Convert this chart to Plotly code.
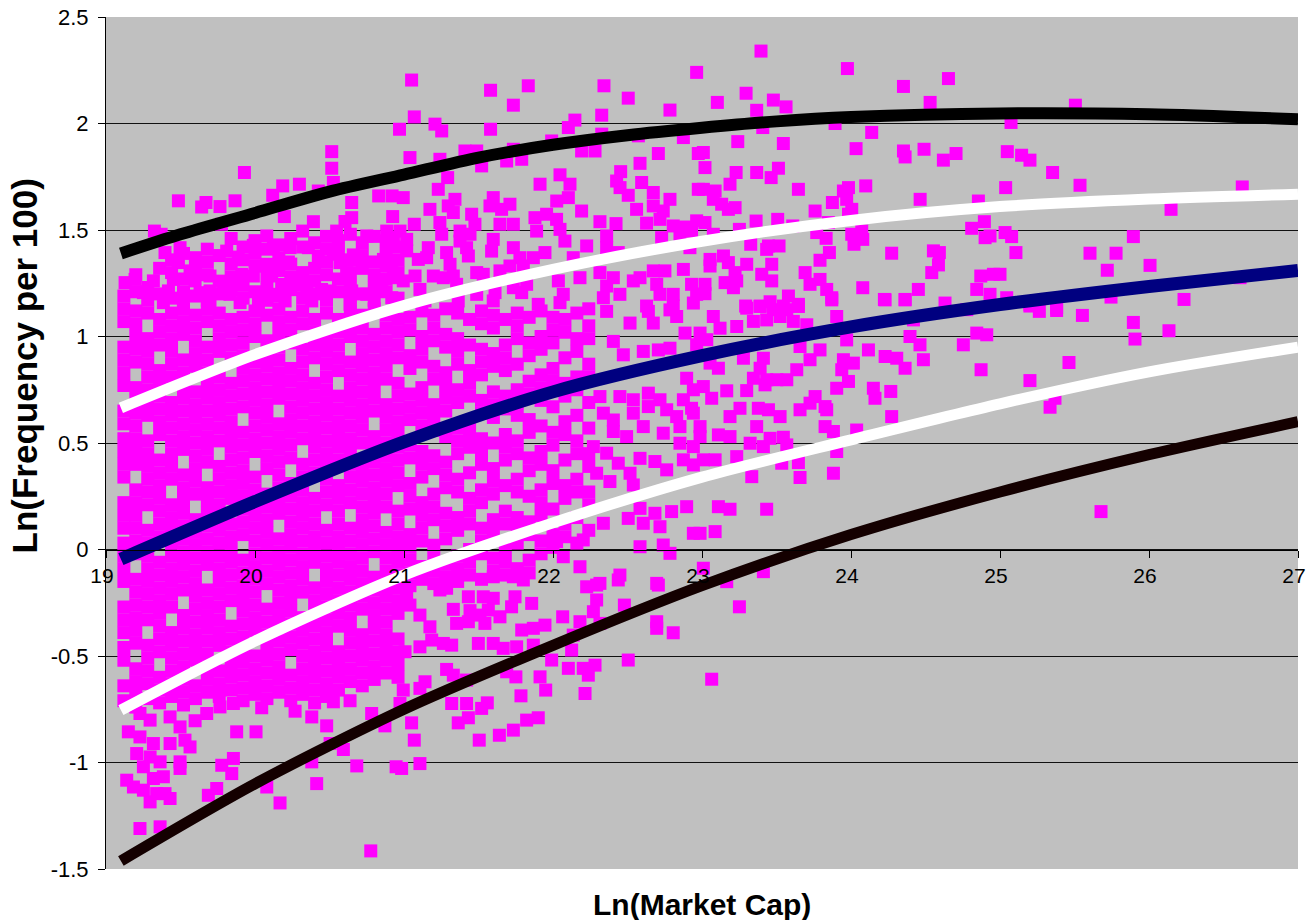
import plotly.graph_objects as go

# ---------------- curves (quantile-type fits) ----------------
curve_x = [19.1, 20.0, 21.0, 22.0, 23.0, 24.0, 25.0, 26.0, 27.0]
top_black_x = [19.1, 19.5, 20.0, 20.5, 21.0, 21.5, 22.0, 22.5, 23.0, 23.5, 24.0, 25.0, 26.0, 27.0]
top_black_y = [1.39, 1.48, 1.58, 1.68, 1.76, 1.84, 1.90, 1.945, 1.98, 2.01, 2.03, 2.047, 2.043, 2.02]
upper_white_y = [0.665, 0.915, 1.145, 1.315, 1.447, 1.545, 1.61, 1.645, 1.668]
median_blue_y = [-0.045, 0.225, 0.505, 0.74, 0.91, 1.045, 1.15, 1.235, 1.31]
lower_white_y = [-0.754, -0.43, -0.12, 0.125, 0.34, 0.515, 0.684, 0.834, 0.95]
bottom_black_y = [-1.462, -1.10, -0.75, -0.45, -0.17, 0.07, 0.27, 0.445, 0.60]

x_tick_vals = [19, 20, 21, 22, 23, 24, 25, 26, 27]
x_tick_text = ["19", "20", "21", "22", "23", "24", "25", "26", "27"]
y_tick_vals = [-1.5, -1.0, -0.5, 0.0, 0.5, 1.0, 1.5, 2.0, 2.5]
y_tick_text = ["-1.5", "-1", "-0.5", "0", "0.5", "1", "1.5", "2", "2.5"]

# ---------------- scatter: dense core (columns of y values) ----------------
core_x = [19.12, 19.20, 19.28, 19.36, 19.44, 19.52, 19.60, 19.68, 19.76, 19.84, 19.92, 20.00,
          20.08, 20.16, 20.24, 20.32, 20.40, 20.48, 20.56, 20.64, 20.72, 20.80, 20.88, 20.96]
core_y = [
    "-0.71 -0.64 -0.52 -0.46 -0.39 -0.33 -0.27 -0.15 -0.09 -0.03 0.03 0.10 0.16 0.22 0.34 0.40 0.46 0.52 0.59 0.65 0.77 0.83 0.89 0.95 1.07 1.13",
    "-0.74 -0.68 -0.62 -0.56 -0.44 -0.38 -0.32 -0.26 -0.20 -0.14 -0.02 0.04 0.10 0.16 0.22 0.28 0.40 0.46 0.52 0.58 0.64 0.70 0.76 0.88 0.94 1.00 1.06 1.12",
    "-0.70 -0.63 -0.57 -0.51 -0.45 -0.33 -0.27 -0.21 -0.15 -0.09 -0.03 0.03 0.09 0.21 0.27 0.33 0.39 0.45 0.51 0.63 0.69 0.75 0.81 0.87 0.93 0.99 1.11",
    "-0.72 -0.66 -0.60 -0.48 -0.42 -0.36 -0.30 -0.24 -0.18 -0.12 -0.06 0.06 0.12 0.18 0.24 0.30 0.36 0.42 0.54 0.60 0.66 0.72 0.78 0.84 0.96 1.02 1.08",
    "-0.69 -0.63 -0.57 -0.51 -0.45 -0.39 -0.27 -0.21 -0.15 -0.09 -0.03 0.03 0.09 0.15 0.21 0.33 0.39 0.45 0.51 0.57 0.63 0.69 0.81 0.87 0.93 0.99 1.05 1.11",
    "-0.73 -0.67 -0.61 -0.55 -0.49 -0.43 -0.37 -0.31 -0.19 -0.13 -0.07 -0.01 0.05 0.11 0.17 0.23 0.29 0.35 0.47 0.53 0.59 0.65 0.71 0.77 0.83 0.89 1.01 1.07 1.13",
    "-0.70 -0.64 -0.52 -0.46 -0.40 -0.34 -0.28 -0.22 -0.16 -0.10 -0.04 0.02 0.08 0.14 0.26 0.32 0.38 0.44 0.50 0.56 0.62 0.68 0.74 0.86 0.92 0.98 1.04 1.10",
    "-0.67 -0.61 -0.55 -0.49 -0.43 -0.37 -0.31 -0.25 -0.19 -0.07 -0.01 0.05 0.11 0.17 0.23 0.29 0.41 0.47 0.53 0.59 0.65 0.71 0.77 0.83 0.89 0.95 1.07 1.13",
    "-0.69 -0.63 -0.57 -0.45 -0.39 -0.33 -0.27 -0.21 -0.15 -0.09 -0.03 0.03 0.09 0.15 0.21 0.27 0.33 0.39 0.51 0.57 0.63 0.69 0.75 0.81 0.93 0.99 1.05 1.11",
    "-0.66 -0.60 -0.54 -0.48 -0.42 -0.36 -0.24 -0.18 -0.12 -0.06 0.00 0.06 0.12 0.24 0.30 0.36 0.42 0.48 0.54 0.60 0.66 0.72 0.78 0.90 0.96 1.02 1.08",
    "-0.71 -0.65 -0.59 -0.53 -0.47 -0.41 -0.35 -0.29 -0.23 -0.17 -0.11 -0.05 0.07 0.13 0.19 0.25 0.31 0.37 0.43 0.49 0.55 0.67 0.73 0.79 0.85 0.91 0.97 1.03 1.09",
    "-0.68 -0.62 -0.56 -0.50 -0.38 -0.32 -0.26 -0.20 -0.14 -0.08 -0.02 0.04 0.10 0.16 0.22 0.28 0.34 0.46 0.52 0.58 0.64 0.70 0.76 0.82 0.88 1.00 1.06 1.12",
    "-0.70 -0.64 -0.58 -0.52 -0.46 -0.40 -0.34 -0.28 -0.16 -0.10 -0.04 0.02 0.08 0.14 0.20 0.26 0.38 0.44 0.50 0.56 0.62 0.68 0.74 0.80 0.86 0.92 0.98 1.10",
    "-0.67 -0.61 -0.55 -0.49 -0.43 -0.37 -0.31 -0.25 -0.19 -0.13 -0.07 -0.01 0.05 0.17 0.23 0.29 0.35 0.41 0.47 0.53 0.59 0.71 0.77 0.83 0.89 0.95 1.01 1.07 1.13",
    "-0.71 -0.65 -0.59 -0.47 -0.41 -0.35 -0.29 -0.23 -0.17 -0.11 -0.05 0.01 0.07 0.13 0.19 0.25 0.31 0.43 0.49 0.55 0.61 0.67 0.73 0.79 0.85 0.97 1.03 1.09",
    "-0.68 -0.62 -0.56 -0.50 -0.44 -0.38 -0.32 -0.20 -0.14 -0.08 -0.02 0.04 0.10 0.16 0.22 0.28 0.34 0.40 0.52 0.58 0.64 0.70 0.76 0.82 0.88 0.94 1.06 1.12",
    "-0.72 -0.66 -0.60 -0.54 -0.48 -0.42 -0.36 -0.30 -0.24 -0.18 -0.06 0.00 0.06 0.12 0.18 0.24 0.36 0.42 0.48 0.54 0.60 0.66 0.72 0.78 0.90 0.96 1.02 1.08",
    "-0.69 -0.63 -0.57 -0.51 -0.45 -0.39 -0.33 -0.27 -0.21 -0.15 -0.09 -0.03 0.03 0.09 0.21 0.27 0.33 0.39 0.45 0.51 0.57 0.63 0.69 0.75 0.81 0.87 0.93 0.99 1.11",
    "-0.66 -0.60 -0.54 -0.48 -0.36 -0.30 -0.24 -0.18 -0.12 -0.06 0.00 0.06 0.12 0.18 0.24 0.30 0.42 0.48 0.54 0.60 0.66 0.72 0.84 0.90 0.96 1.02 1.08",
    "-0.62 -0.56 -0.50 -0.44 -0.38 -0.32 -0.26 -0.20 -0.14 -0.08 -0.02 0.04 0.10 0.22 0.28 0.34 0.40 0.46 0.52 0.58 0.64 0.70 0.76 0.82 0.88 1.00 1.06 1.12",
    "-0.64 -0.58 -0.52 -0.46 -0.40 -0.28 -0.22 -0.16 -0.10 -0.04 0.02 0.08 0.14 0.20 0.26 0.32 0.38 0.50 0.56 0.62 0.68 0.74 0.80 0.86 0.92 0.98 1.04 1.10",
    "-0.61 -0.55 -0.49 -0.43 -0.37 -0.31 -0.25 -0.19 -0.13 -0.01 0.05 0.11 0.17 0.23 0.29 0.35 0.41 0.47 0.53 0.65 0.71 0.77 0.83 0.89 0.95 1.01 1.13",
    "-0.58 -0.52 -0.46 -0.40 -0.34 -0.28 -0.22 -0.16 -0.10 -0.04 0.02 0.08 0.20 0.26 0.32 0.38 0.44 0.50 0.56 0.62 0.68 0.80 0.86 0.92 0.98 1.04 1.10",
    "-0.60 -0.54 -0.48 -0.42 -0.30 -0.24 -0.18 -0.12 -0.06 0.00 0.06 0.12 0.18 0.30 0.36 0.42 0.48 0.54 0.60 0.66 0.72 0.78 0.90 0.96 1.02 1.08",
]
# band just above the core (y 1.15 - 1.5)
band_y = [
    "1.19", "1.21 1.29", "1.17 1.23", "1.20 1.32", "1.18 1.30 1.36", "1.21 1.27 1.39",
    "1.19 1.31 1.37", "1.17 1.29 1.35 1.41", "1.20 1.26 1.38", "1.22 1.28 1.34 1.46",
    "1.18 1.24 1.36 1.42", "1.21 1.33 1.39 1.45", "1.17 1.23 1.29 1.41", "1.19 1.31 1.37 1.43",
    "1.22 1.28 1.34 1.46", "1.18 1.24 1.30 1.42", "1.20 1.26 1.32 1.44", "1.17 1.29 1.35 1.41 1.47",
    "1.21 1.27 1.39 1.45", "1.18 1.24 1.30 1.36 1.48", "1.20 1.32 1.38 1.44", "1.17 1.23 1.29 1.35 1.47",
    "1.21 1.27 1.33 1.39 1.45", "1.18 1.30 1.36 1.42",
]

# semi-dense band (x 21 - 22.3)
mid_x = [21.04, 21.12, 21.20, 21.28, 21.36, 21.44, 21.52, 21.60, 21.68, 21.76, 21.84, 21.92, 22.00, 22.08, 22.16, 22.24]
mid_y = [
    "-0.17 -0.11 -0.05 0.01 0.07 0.19 0.25 0.31 0.43 0.49 0.61 0.67 0.73 0.85 0.91 1.03 1.09",
    "-0.14 -0.08 0.04 0.10 0.16 0.22 0.34 0.40 0.46 0.58 0.64 0.70 0.76 0.88 0.94 1.00 1.12",
    "-0.16 -0.10 -0.04 0.02 0.14 0.20 0.26 0.38 0.44 0.56 0.62 0.68 0.80 0.86 0.98 1.04 1.10",
    "-0.13 -0.07 0.05 0.11 0.17 0.29 0.35 0.41 0.53 0.65 0.71 0.77 0.83 0.95 1.01 1.13",
    "-0.15 -0.09 -0.03 0.09 0.15 0.27 0.33 0.45 0.51 0.57 0.69 0.75 0.87 0.93 0.99 1.11",
    "-0.12 -0.06 0.00 0.12 0.18 0.24 0.36 0.48 0.54 0.60 0.72 0.78 0.84 0.96 1.08",
    "-0.14 -0.02 0.04 0.10 0.22 0.28 0.40 0.46 0.52 0.64 0.70 0.82 0.88 0.94 1.06 1.12",
    "-0.10 -0.04 0.08 0.14 0.26 0.32 0.38 0.50 0.62 0.68 0.74 0.86 0.92 1.04 1.10",
    "-0.12 -0.06 0.00 0.12 0.18 0.30 0.42 0.48 0.54 0.66 0.72 0.84 0.90 0.96 1.08",
    "-0.09 0.03 0.09 0.15 0.27 0.33 0.45 0.51 0.63 0.69 0.75 0.87 0.99 1.05 1.11",
    "-0.11 -0.05 0.07 0.13 0.25 0.37 0.43 0.55 0.61 0.73 0.79 0.91 0.97 1.09",
    "-0.02 0.04 0.16 0.22 0.28 0.40 0.46 0.58 0.70 0.76 0.82 0.94 1.00 1.12",
    "0.01 0.07 0.19 0.31 0.37 0.49 0.55 0.67 0.79 0.85 0.97 1.03 1.09",
    "0.06 0.12 0.24 0.30 0.42 0.54 0.60 0.72 0.78 0.90 1.02 1.08",
    "0.03 0.15 0.27 0.33 0.45 0.51 0.63 0.75 0.81 0.93 0.99 1.11",
    "0.09 0.21 0.27 0.39 0.45 0.57 0.69 0.81 0.87 0.99 1.05 1.13",
]

# individually read points
pts_upper_left = [
    (20.97, 1.973), (20.515, 1.868), (20.515, 1.79), (19.929, 1.77), (20.186, 1.707), (20.298, 1.715),
    (20.119, 1.663), (20.526, 1.723), (20.425, 1.683), (19.486, 1.637), (19.671, 1.629), (19.642, 1.608),
    (19.765, 1.61), (19.866, 1.637), (20.197, 1.563), (20.392, 1.539), (19.325, 1.495), (19.37, 1.48),
    (20.649, 1.629), (20.83, 1.66), (20.92, 1.66), (20.924, 1.563), (20.649, 1.558), (20.604, 1.54),
    (20.32, 1.495), (20.548, 1.495), (19.775, 1.527), (20.884, 1.495), (20.929, 1.464), (20.75, 1.472),
    (19.396, 1.394), (19.497, 1.417), (19.486, 1.347), (20.079, 1.472), (20.123, 1.417), (19.989, 1.428),
    (19.81, 1.401), (19.888, 1.373), (20.235, 1.417), (20.224, 1.35), (20.358, 1.417), (20.425, 1.378),
    (20.526, 1.386), (20.66, 1.383), (20.57, 1.347), (20.615, 1.3), (20.862, 1.362), (20.918, 1.347),
    (20.079, 1.339), (20.112, 1.284), (19.564, 1.308), (19.698, 1.284), (19.598, 1.261), (19.452, 1.268),
    (19.128, 1.253), (19.195, 1.268), (19.318, 1.261), (19.251, 1.206), (19.419, 1.214), (19.911, 1.292),
    (19.989, 1.284), (19.877, 1.261), (19.788, 1.237), (19.832, 1.198), (19.631, 1.206), (19.698, 1.214),
    (19.519, 1.159), (19.385, 1.159), (20.179, 1.245), (20.246, 1.253), (20.123, 1.198), (20.202, 1.167),
    (20.023, 1.151), (20.347, 1.237), (20.447, 1.221), (20.503, 1.214), (20.381, 1.167), (20.649, 1.214),
    (20.75, 1.198), (20.851, 1.237), (20.929, 1.276), (20.918, 1.182), (20.638, 1.151), (19.9, 1.159),
    (19.698, 1.143),
]
pts_upper_mid = [
    (21.051, 2.204), (21.581, 2.156), (21.834, 2.177), (21.734, 2.086), (22.342, 2.177), (22.505, 2.119),
    (22.785, 2.063), (22.964, 2.24), (21.069, 2.031), (21.208, 1.997), (21.253, 1.965), (21.581, 1.973),
    (22.147, 2.016), (22.103, 1.981), (22.327, 2.039), (22.327, 1.95), (21.991, 1.918), (21.734, 1.879),
    (21.79, 1.832), (21.409, 1.871), (21.488, 1.871), (21.04, 1.84), (21.241, 1.832), (21.689, 1.824),
    (21.521, 1.801), (22.192, 1.871), (22.282, 1.871), (22.573, 1.942), (22.875, 1.934), (22.707, 1.859),
    (22.975, 1.859), (22.584, 1.813), (22.454, 1.774), (22.427, 1.73), (22.45, 1.699), (22.505, 1.663),
    (22.595, 1.723), (22.673, 1.676), (22.785, 1.644), (22.975, 1.691), (21.293, 1.746), (21.23, 1.691),
    (21.913, 1.715), (22.047, 1.759), (22.114, 1.715), (22.103, 1.652), (22.025, 1.636), (20.995, 1.652),
    (21.342, 1.644), (21.297, 1.613), (21.174, 1.597), (21.331, 1.582), (21.599, 1.652), (21.577, 1.613),
    (21.655, 1.597), (21.711, 1.621), (21.454, 1.574), (22.192, 1.589), (22.315, 1.539), (22.423, 1.53),
    (22.561, 1.597), (22.673, 1.613), (22.74, 1.589), (22.628, 1.532), (22.718, 1.55), (22.807, 1.519),
    (22.886, 1.514), (22.964, 1.543), (21.069, 1.527), (20.973, 1.495), (21.018, 1.456), (21.018, 1.402),
    (21.241, 1.535), (21.253, 1.48), (21.376, 1.495), (21.443, 1.48), (21.476, 1.527), (21.644, 1.527),
    (21.734, 1.527), (21.879, 1.558), (21.957, 1.574), (22.024, 1.55), (21.89, 1.495), (22.047, 1.503),
    (22.08, 1.448), (22.36, 1.472), (22.36, 1.417), (22.226, 1.425), (22.438, 1.394), (22.729, 1.464),
    (22.852, 1.48), (22.93, 1.495), (22.919, 1.417), (21.163, 1.417), (21.152, 1.37), (21.096, 1.362),
    (21.286, 1.394), (21.309, 1.339), (21.376, 1.448), (21.42, 1.417), (21.432, 1.378), (21.599, 1.456),
    (21.588, 1.401), (21.734, 1.417), (21.778, 1.37), (21.868, 1.37), (21.946, 1.394), (22.136, 1.37),
    (21.488, 1.3), (21.532, 1.292), (21.644, 1.308), (21.711, 1.331), (21.801, 1.331), (21.074, 1.284),
    (21.197, 1.284), (21.264, 1.276), (21.331, 1.284), (20.995, 1.261), (21.107, 1.221), (21.141, 1.167),
    (21.353, 1.245), (21.364, 1.167), (21.488, 1.198), (21.599, 1.167), (21.611, 1.206), (21.734, 1.229),
    (21.823, 1.245), (21.79, 1.206), (22.036, 1.261), (22.069, 1.198), (22.047, 1.159), (22.181, 1.276),
    (21.901, 1.151), (22.315, 1.3), (22.405, 1.276), (22.36, 1.237), (22.338, 1.182), (22.449, 1.198),
    (22.539, 1.261), (22.584, 1.276), (22.673, 1.308), (22.751, 1.308), (22.875, 1.315), (22.696, 1.245),
    (22.718, 1.198), (22.807, 1.198), (22.93, 1.245), (22.964, 1.198), (22.628, 1.143), (22.807, 1.143),
]
pts_upper_right = [
    (23.396, 2.34), (23.976, 2.258), (24.654, 2.211), (24.352, 2.174), (23.296, 2.142), (23.103, 2.099),
    (23.479, 2.11), (23.564, 2.078), (23.367, 2.062), (24.531, 2.099), (23.408, 1.981), (23.893, 2.0),
    (24.139, 1.958), (23.24, 1.915), (23.546, 1.906), (23.009, 1.864), (23.02, 1.793), (24.034, 1.882),
    (24.352, 1.871), (24.363, 1.843), (24.49, 1.879), (24.62, 1.828), (24.705, 1.859), (23.229, 1.77),
    (23.188, 1.715), (23.367, 1.77), (23.513, 1.79), (23.464, 1.746), (23.088, 1.683), (23.076, 1.644),
    (23.132, 1.621), (23.222, 1.605), (23.177, 1.597), (23.009, 1.691), (23.647, 1.691), (23.983, 1.699),
    (23.949, 1.683), (23.971, 1.644), (24.099, 1.707), (23.875, 1.629), (23.759, 1.589), (24.005, 1.597),
    (23.983, 1.574), (24.464, 1.644), (24.855, 1.636), (23.02, 1.535), (23.076, 1.48), (23.251, 1.503),
    (23.363, 1.542), (23.508, 1.55), (23.609, 1.519), (23.848, 1.535), (23.77, 1.488), (23.833, 1.461),
    (24.005, 1.48), (24.072, 1.495), (24.079, 1.456), (24.02, 1.433), (23.327, 1.433), (23.446, 1.425),
    (23.517, 1.425), (23.434, 1.409), (23.855, 1.394), (23.792, 1.358), (24.273, 1.391), (24.553, 1.402),
    (24.593, 1.394), (24.587, 1.336), (24.542, 1.3), (24.81, 1.508), (24.895, 1.539), (24.9, 1.464),
    (24.933, 1.472), (23.054, 1.362), (23.144, 1.378), (23.177, 1.347), (23.054, 1.331), (23.3, 1.339),
    (23.222, 1.3), (23.468, 1.339), (23.401, 1.292), (23.468, 1.261), (23.233, 1.261), (23.211, 1.229),
    (23.155, 1.253), (23.02, 1.245), (23.02, 1.201), (23.692, 1.3), (23.725, 1.245), (23.792, 1.268),
    (23.837, 1.221), (23.871, 1.182), (23.58, 1.19), (23.647, 1.151), (23.293, 1.143), (23.39, 1.143),
    (23.457, 1.163), (23.546, 1.143), (24.079, 1.229), (24.224, 1.174), (24.363, 1.174), (24.452, 1.221),
    (24.871, 1.284), (24.956, 1.292), (24.844, 1.221), (24.933, 1.198),
    (25.506, 2.086), (25.074, 2.005), (25.049, 1.868), (25.145, 1.851), (25.201, 1.828), (25.353, 1.77),
    (25.038, 1.699), (25.537, 1.71), (26.626, 1.702), (26.148, 1.597), (25.034, 1.488), (25.078, 1.469),
    (25.895, 1.469), (25.107, 1.394), (25.604, 1.391), (25.779, 1.391), (25.72, 1.311), (26.007, 1.334),
    (25.0, 1.292), (26.611, 1.276), (25.045, 1.182), (25.745, 1.185), (26.235, 1.174), (25.201, 1.143),
    (25.38, 1.135), (25.201, 1.149), (25.264, 1.118), (25.38, 1.122), (25.553, 1.099), (25.895, 1.066),
    (25.906, 0.988), (26.134, 1.027), (25.463, 0.878), (25.201, 0.793), (25.336, 0.668), (25.369, 0.71),
    (25.678, 0.178),
]
pts_mid_right = [
    (23.3, 1.133), (23.39, 1.141), (23.479, 1.126), (23.569, 1.126), (23.647, 1.141), (23.076, 1.094),
    (23.121, 1.039), (23.233, 1.047), (23.345, 1.071), (23.434, 1.078), (23.524, 1.094), (23.613, 1.071),
    (23.703, 1.055), (23.904, 1.094), (23.871, 1.172), (24.229, 1.172), (24.363, 1.172), (24.419, 1.078),
    (24.631, 1.157), (24.777, 1.126), (24.844, 1.016), (24.911, 1.008), (23.054, 0.875), (23.11, 0.851),
    (22.987, 1.016), (23.032, 0.985), (23.278, 0.898), (23.412, 0.898), (23.39, 0.851), (23.345, 0.804),
    (23.434, 0.797), (23.502, 0.797), (23.569, 0.797), (23.658, 0.953), (23.725, 0.891), (23.636, 0.844),
    (23.792, 0.937), (23.971, 0.984), (23.949, 0.891), (23.938, 0.844), (24.016, 0.875), (24.117, 0.937),
    (24.229, 0.906), (24.307, 0.898), (24.363, 0.851), (24.486, 0.891), (24.396, 1.0), (24.463, 0.961),
    (24.754, 0.961), (24.873, 0.844), (23.904, 0.757), (23.983, 0.789), (24.15, 0.757), (24.161, 0.71),
    (24.267, 0.742), (23.009, 0.765), (23.065, 0.71), (23.166, 0.745), (23.3, 0.746), (23.423, 0.773),
    (23.759, 0.718), (23.725, 0.687), (23.658, 0.656), (23.826, 0.671), (23.837, 0.656), (23.255, 0.663),
    (23.188, 0.624), (23.378, 0.663), (23.446, 0.656), (23.524, 0.624), (24.273, 0.624), (22.987, 0.577),
    (22.987, 0.53), (23.11, 0.538), (23.188, 0.53), (23.367, 0.577), (23.457, 0.522), (23.546, 0.527),
    (23.323, 0.499), (23.412, 0.483), (23.826, 0.577), (23.882, 0.554), (24.038, 0.561), (23.569, 0.491),
    (23.009, 0.421), (23.088, 0.421), (23.233, 0.436), (23.535, 0.405), (23.647, 0.408), (23.904, 0.46),
    (23.334, 0.342), (23.658, 0.338), (23.882, 0.358), (23.11, 0.201), (23.188, 0.189), (23.434, 0.189),
    (23.088, 0.084), (22.987, 0.076), (23.009, -0.088), (23.412, -0.104), (23.166, -0.151),
    (23.251, -0.269), (23.065, -0.609),
    (22.36, 1.118), (22.517, 1.063), (22.64, 1.118), (22.673, 1.063), (22.785, 1.125), (22.83, 1.094),
    (22.886, 1.016), (22.964, 0.961), (22.942, 1.157), (22.405, 0.977), (22.472, 0.914), (22.606, 0.93),
    (22.707, 0.937), (22.785, 0.945), (22.897, 0.804), (22.942, 0.75), (22.875, 0.703), (22.93, 0.663),
    (22.315, 0.718), (22.449, 0.718), (22.539, 0.703), (22.64, 0.734), (22.718, 0.703), (22.338, 0.64),
    (22.405, 0.608), (22.539, 0.64), (22.64, 0.671), (22.763, 0.656), (22.83, 0.624), (22.942, 0.64),
    (22.405, 0.554), (22.494, 0.53), (22.606, 0.577), (22.74, 0.546), (22.852, 0.577), (22.942, 0.483),
    (22.852, 0.499), (22.584, 0.428), (22.684, 0.413), (22.763, 0.374), (22.875, 0.421), (22.942, 0.397),
    (22.271, 0.483), (22.36, 0.452), (22.438, 0.405), (22.517, 0.358), (22.293, 0.358), (22.382, 0.319),
    (22.539, 0.303), (22.584, 0.193), (22.684, 0.17), (22.796, 0.178), (22.897, 0.201), (22.338, 0.123),
    (22.505, 0.146), (22.606, 0.123), (22.718, 0.107), (22.942, 0.076), (22.584, 0.013), (22.74, 0.021),
    (22.785, -0.018), (22.024, 0.037), (22.203, 0.045), (22.069, -0.034), (22.181, -0.081), (22.315, -0.159),
    (22.449, -0.12), (22.696, -0.159), (21.599, -0.128), (21.734, -0.128), (21.801, -0.143),
]
pts_lower = [
    (21.286, -0.182), (21.241, -0.19), (21.432, -0.222), (21.532, -0.222), (21.599, -0.229), (21.745, -0.222),
    (21.857, -0.253), (21.331, -0.281), (21.443, -0.287), (21.566, -0.284), (21.644, -0.316), (21.722, -0.269),
    (22.226, -0.175), (22.293, -0.167), (22.438, -0.143), (22.707, -0.167), (22.293, -0.237), (22.271, -0.292),
    (22.315, -0.347), (22.479, -0.261), (22.696, -0.339), (22.696, -0.37), (22.807, -0.391), (22.065, -0.316),
    (22.181, -0.339), (22.136, -0.402), (21.353, -0.347), (21.432, -0.339), (21.543, -0.347), (21.51, -0.308),
    (21.018, -0.206), (21.04, -0.261), (21.107, -0.308), (21.174, -0.363), (21.186, -0.425), (21.264, -0.441),
    (21.32, -0.449), (21.107, -0.457), (21.007, -0.48), (21.499, -0.441), (21.599, -0.441), (21.666, -0.464),
    (21.756, -0.457), (21.79, -0.378), (21.868, -0.37), (21.946, -0.355), (21.868, -0.449), (22.125, -0.472),
    (21.991, -0.519), (22.103, -0.558), (22.203, -0.558), (22.282, -0.543), (22.237, -0.59), (22.505, -0.519),
    (21.286, -0.563), (21.331, -0.59), (21.42, -0.613), (21.141, -0.621), (21.107, -0.652), (20.995, -0.66),
    (20.973, -0.723), (21.689, -0.574), (21.751, -0.598), (21.913, -0.598), (21.951, -0.66), (21.785, -0.687),
    (22.215, -0.676), (21.32, -0.723), (21.42, -0.723), (21.521, -0.746), (21.559, -0.72), (21.051, -0.814),
    (21.364, -0.814), (21.432, -0.79), (21.823, -0.801), (21.901, -0.79), (21.734, -0.848), (21.64, -0.872),
    (21.069, -0.895), (21.505, -0.895), (21.107, -1.005), (20.984, -1.028),
    (19.228, -1.31), (19.363, -1.302), (20.777, -1.415), (19.296, -1.185), (19.43, -1.169), (19.34, -1.146),
    (19.396, -1.146), (19.139, -1.083), (19.184, -1.115), (19.251, -1.13), (19.318, -1.075), (19.385, -1.067),
    (19.687, -1.154), (19.743, -1.122), (19.777, -1.013), (19.855, -0.981), (19.844, -1.052), (19.497, -0.997),
    (19.497, -1.028), (19.206, -0.958), (19.296, -0.974), (19.363, -0.997), (19.251, -1.02), (19.15, -0.856),
    (19.228, -0.88), (19.318, -0.911), (19.43, -0.911), (19.53, -0.895), (19.564, -0.927), (19.228, -0.77),
    (19.296, -0.801), (19.43, -0.786), (19.497, -0.833), (19.598, -0.804), (19.877, -0.856), (20.007, -0.856),
    (20.079, -1.115), (20.168, -1.19), (20.414, -1.099), (20.381, -0.997), (20.683, -1.016), (20.947, -1.02),
    (20.593, -0.939), (20.504, -0.911), (20.269, -0.759), (20.381, -0.786), (20.481, -0.828), (20.638, -0.71),
    (20.526, -0.715), (20.783, -0.77), (20.872, -0.828), (20.045, -0.743), (19.676, -0.77), (19.765, -0.739),
    (19.855, -0.723),
]

# ---------------- assemble scatter ----------------
sx, sy = [], []
for cols_x, cols_y in ((core_x, core_y), (core_x, band_y), (mid_x, mid_y)):
    for xv, col in zip(cols_x, cols_y):
        for v in col.split():
            sx.append(xv)
            sy.append(float(v))
for group in (pts_upper_left, pts_upper_mid, pts_upper_right, pts_mid_right, pts_lower):
    for px, py in group:
        sx.append(px)
        sy.append(py)

fig = go.Figure()
fig.add_trace(go.Scatter(
    x=sx, y=sy, mode="markers",
    marker=dict(symbol="square", size=13, color="#FF00FF", line=dict(width=0)),
    hoverinfo="skip",
))

line_specs = [
    (curve_x, bottom_black_y, "#140000", 11),
    (curve_x, lower_white_y, "#FFFFFF", 11),
    (curve_x, median_blue_y, "#000080", 13),
    (curve_x, upper_white_y, "#FFFFFF", 11),
    (top_black_x, top_black_y, "#000000", 12),
]
for xs, ys, col, w in line_specs:
    fig.add_trace(go.Scatter(
        x=xs, y=ys, mode="lines",
        line=dict(color=col, width=w, shape="spline", smoothing=0.8),
        hoverinfo="skip",
    ))

x_tick_font = dict(family="Liberation Sans, Arial, sans-serif", size=21, color="black")
y_tick_font = dict(family="Liberation Sans, Arial, sans-serif", size=22, color="black")
title_font_family = "Liberation Sans, Arial, sans-serif"

fig.update_layout(
    width=1307, height=920,
    margin=dict(l=106, r=9, t=17, b=51, autoexpand=False),
    plot_bgcolor="#C0C0C0", paper_bgcolor="white",
    showlegend=False,
    font=dict(family="Liberation Sans, Arial, sans-serif", size=20, color="black"),
    xaxis=dict(
        range=[19, 27], anchor="free", position=0.375, automargin=False,
        tickvals=x_tick_vals, ticktext=x_tick_text,
        showline=True, linecolor="black", linewidth=1,
        ticks="outside", ticklen=7, tickcolor="black",
        showgrid=False, zeroline=False,
        tickfont=x_tick_font, ticklabeloverflow="allow", ticklabelshift=-4,
    ),
    yaxis=dict(
        range=[-1.5, 2.5], automargin=False,
        tickvals=y_tick_vals, ticktext=y_tick_text,
        showline=True, linecolor="black", linewidth=1,
        ticks="outside", ticklen=7, tickcolor="black",
        showgrid=True, gridcolor="#111111", gridwidth=1, zeroline=False,
        tickfont=y_tick_font, ticklabelstandoff=5,
    ),
    annotations=[
        dict(text="<b>Ln(Market Cap)</b>", x=0.5, y=-0.042, xref="paper", yref="paper",
             showarrow=False, xanchor="center", yanchor="middle",
             font=dict(family=title_font_family, size=30)),
        dict(text="<b>Ln(Frequency per 100)</b>", x=-0.0688, y=0.591, xref="paper", yref="paper",
             showarrow=False, xanchor="center", yanchor="middle", textangle=-90,
             font=dict(family=title_font_family, size=35)),
    ],
)

fig.write_html("out.html")
